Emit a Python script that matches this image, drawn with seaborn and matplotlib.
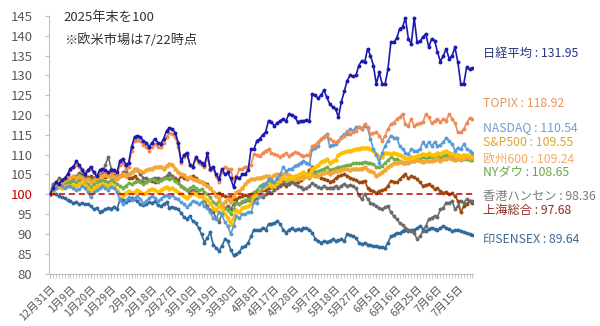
import pandas as pd
import matplotlib
matplotlib.use("Agg")
import matplotlib.pyplot as plt
import seaborn as sns

# index values (end of 2025 = 100), one value per weekday from 2025-12-31 to 2026-07-22
nikkei = [
    100, 101.5, 103, 102.5, 103.5, 104, 105, 106.5, 107, 108.3,
    107.5, 106, 105, 106, 107, 105.5, 104.5, 106, 106.5, 106,
    105.5, 106, 106, 105.5, 108.5, 109, 107.5, 108, 112, 114.5,
    114.8, 114.5, 113.5, 113, 112, 113, 114, 113, 112.8, 114,
    116, 116.8, 116.5, 115.5, 113, 108.3, 110, 110.5, 107.5, 107,
    109.3, 108.5, 108, 107.3, 110.3, 106.5, 107, 105, 103.8, 106.5,
    105, 105.5, 104, 101.8, 104.3, 104, 105, 105.2, 106, 111.5,
    111.4, 113.5, 114, 115, 115.7, 118.6, 118.2, 117.3, 118, 118.6,
    119, 118.5, 120.3, 120, 119.5, 118.3, 118.5, 118.5, 118.7, 118.5,
    125.3, 125, 124.2, 125, 126.2, 124.5, 122.8, 122, 121.5, 119.5,
    123.3, 126, 128.7, 130, 129.8, 130, 132.5, 133.7, 133.3, 136.7,
    135, 132.5, 127.8, 130.8, 127.8, 127.8, 131.6, 138.4, 138.4, 139.4,
    141.8, 142.2, 144.5, 139.2, 138, 144.5, 138.4, 138.6, 139.7, 140.5,
    137.1, 139.2, 138.8, 135.9, 133.5, 135, 136.7, 134.2, 135, 137.1,
    133.3, 127.8, 127.8, 132, 131.5, 131.95]

topix = [
    100, 101.5, 102.5, 102.5, 103.5, 104, 105, 106, 107, 107.5,
    107, 106.5, 105.5, 106, 106.5, 105.5, 104.5, 105.5, 106, 105.5,
    105, 105.5, 105.5, 105, 107.5, 108, 106.5, 107, 111, 113.5,
    113.8, 113.5, 112.5, 112, 111, 112, 112.8, 112, 112, 113,
    114.5, 115.5, 115.3, 114.5, 112, 108, 109.5, 110, 107.5, 107,
    108.8, 108, 107.5, 107, 109.5, 106, 106.5, 104.5, 103, 105.5,
    106.8, 106.5, 106.3, 103.5, 104.5, 106.3, 106.5, 107, 107, 107.5,
    110.1, 110, 109.7, 110.5, 111, 111.4, 110.5, 110.1, 109.8, 109.4,
    110, 110.3, 109.7, 110.2, 110.6, 110.3, 110, 109.6, 109.8, 110,
    112.2, 112.5, 113.1, 114, 114.5, 115.2, 113.9, 113.5, 113.1, 113.5,
    114.2, 114.8, 116, 115.2, 115.6, 116, 116.9, 116.5, 117.7, 117,
    115.2, 115.5, 115.6, 114.8, 113.5, 114.8, 116.5, 117.7, 118.1, 119,
    119.5, 120.3, 117.7, 117.3, 119, 117.3, 117.7, 118, 118.2, 120.3,
    119.4, 118, 118.5, 119, 118.2, 119, 118.6, 120.3, 119, 118,
    115.6, 115.6, 116.5, 118, 119.2, 118.92]

nasdaq = [
    100, 101, 101.5, 102.5, 102, 101.5, 102, 102, 101.5, 101,
    101.3, 102, 101.5, 100.5, 99.2, 100.5, 101, 101.5, 102, 101.5,
    101, 101.8, 101.5, 100.5, 98.5, 97.5, 98.5, 99.2, 98.5, 99,
    99.5, 98.8, 97.8, 98.2, 99, 99.6, 99, 98.3, 98.8, 99.5,
    99.8, 99.2, 99.8, 99, 98.7, 98, 97.5, 96.7, 97.5, 98.3,
    98, 97.5, 98, 97, 96.5, 95.4, 94, 93.7, 95.5, 94.9,
    93, 92, 89.9, 92, 94.5, 94, 95, 95, 95.5, 95.4,
    98, 97.9, 99.5, 102, 102.5, 103.8, 103.5, 103, 104, 105,
    106.8, 105.9, 106.3, 106.5, 107.2, 107.5, 108, 108.4, 108, 107.6,
    111.4, 111.8, 112.2, 113.9, 114.5, 115.2, 112.2, 112.5, 112.6, 113.5,
    114.5, 115.2, 115.2, 116.5, 116, 116.9, 116.9, 116.5, 117.3, 116.8,
    113.9, 111.4, 110, 108, 110.5, 112.2, 113.5, 114.8, 114.3, 114.3,
    112.2, 111.4, 110.5, 110.1, 111.4, 111, 111, 111.4, 113.1, 112.2,
    113.1, 112.2, 113.1, 112.2, 112.5, 113.1, 114.3, 113.5, 112.7, 111,
    111.8, 111.4, 112.7, 111.5, 111, 110.54]

sp500 = [
    100, 100.8, 101.5, 101.8, 101.5, 101.8, 102.2, 102, 102.3, 102.1,
    102.5, 102.8, 102.3, 101.5, 100.5, 101.5, 102, 102.3, 102.6, 102.3,
    102, 102.5, 102, 101, 100, 99.6, 100.3, 100.8, 100.2, 100.5,
    101, 100.5, 100, 100.4, 101, 101.3, 101, 100.5, 101, 101.5,
    101.8, 101.3, 101.5, 101, 100.5, 100, 99.5, 99, 99.8, 100.3,
    100, 99.5, 99.8, 99, 98.5, 97.8, 96.5, 96, 97, 96.5,
    95, 94, 92.5, 94, 96, 95.5, 96.5, 96.8, 97, 97.5,
    99.5, 99.8, 100.5, 101.5, 102, 102.5, 102.2, 102, 102.8, 103.3,
    104, 103.8, 104, 104.2, 104.6, 104.8, 105.2, 105.5, 105.2, 105,
    106.5, 106.8, 107.3, 108.1, 108.5, 108.8, 108, 108.3, 108.7, 110,
    110.3, 110.6, 110.8, 111, 111.2, 111.4, 111.5, 111.8, 111.6, 111.8,
    111.3, 111, 110.2, 109.5, 109.3, 110.5, 110.3, 110.1, 110.5, 110.2,
    109.8, 109.5, 109.2, 109, 109.5, 109.3, 109.6, 109.8, 110.2, 110,
    110.3, 109.8, 110, 110.4, 110.2, 110.6, 110.8, 110.5, 110.2, 109.8,
    110, 109.7, 110, 109.8, 109.6, 109.55]

stoxx600 = [
    100, 101, 102.5, 103, 102.8, 103.5, 104, 104.2, 104.5, 104.2,
    104.5, 104, 103.5, 103.8, 103, 103.5, 104, 104.3, 104.5, 104.8,
    104.5, 104.8, 104.3, 103.8, 104.5, 105, 104.6, 105, 105.5, 106,
    106.3, 105.8, 105.5, 106, 106.3, 106.5, 106.8, 106.8, 107, 106.5,
    107.2, 107.6, 107.5, 106.5, 105.5, 105, 104.8, 104, 104.3, 103.8,
    103.5, 103.3, 103, 102.5, 102.1, 101.5, 100.5, 99.6, 99, 97,
    98, 98.7, 98, 99.5, 100.5, 100.8, 101.5, 102.5, 103.4, 103.8,
    103.8, 104, 104.2, 104.3, 104.6, 104.5, 104.2, 104.8, 105, 104.6,
    105.2, 105, 104.8, 104.3, 104, 103.8, 104.2, 104, 104.5, 104.3,
    104.8, 104.6, 104.6, 105, 105.3, 105.5, 105.2, 105.6, 105.9, 105.9,
    106.2, 106.5, 106.3, 106, 106.3, 106.5, 106.3, 106.5, 106.8, 106.2,
    105.8, 105.5, 104.6, 105, 105.5, 106.2, 106.8, 107.3, 107.8, 108,
    108.2, 108, 107.8, 108.2, 108.5, 108.3, 108.6, 108.4, 108.2, 108.5,
    108.3, 108.4, 108.6, 108.9, 108.5, 108.8, 109, 109.2, 108.8, 108.6,
    109, 108.8, 109.1, 109.3, 109.2, 109.24]

dow = [
    100, 101, 101.8, 102.5, 102.2, 102.8, 103.2, 103, 103.3, 103.2,
    103.5, 103.8, 103.2, 102.5, 101.8, 102.5, 103, 103.3, 103.6, 103.3,
    103, 103.5, 103.2, 102.5, 102, 101.6, 102.2, 102.8, 102.5, 103,
    103.3, 103, 102.6, 103, 103.5, 103.8, 103.5, 103.2, 103.6, 104,
    104.2, 103.8, 104, 103.4, 102.8, 102.2, 101.5, 101, 101.6, 102,
    101.6, 101, 101.3, 100.5, 100, 99.2, 98, 97.5, 98.2, 97.5,
    96.5, 96, 95, 96.2, 97.9, 97.5, 98.2, 98.5, 98.8, 99,
    100.5, 101, 102.1, 102.5, 102.8, 103.2, 103, 102.8, 103.8, 103.5,
    103.8, 103.6, 103.8, 103.9, 104.2, 104.5, 104.8, 104.6, 104.5, 104.2,
    105.2, 105.5, 105.8, 106.2, 106.5, 106.8, 106.2, 106.4, 106.6, 106.8,
    107, 107.2, 107.4, 107.5, 107.8, 108, 107.8, 108, 108.2, 108,
    107.8, 107.6, 107, 106.8, 107.2, 108, 108.6, 109.3, 109, 108.8,
    108.5, 108.2, 108, 107.8, 108.3, 108.5, 108.8, 109, 109.3, 109.2,
    109.5, 109.3, 109.6, 109.8, 109.5, 109.7, 110, 109.6, 109.3, 108.8,
    109, 108.6, 108.9, 108.8, 108.6, 108.65]

hangseng = [
    100, 102.5, 103, 104, 103.5, 102.8, 103, 103.5, 104, 104.5,
    105.3, 105, 104.5, 104, 103.5, 104, 104.5, 105, 105.5, 107.5,
    109.4, 106.5, 105, 104, 104.5, 105.5, 105.8, 105, 105.5, 106.3,
    106, 105, 104.2, 104, 103.5, 103.8, 104.2, 104, 103.5, 104,
    104.5, 105.3, 104.3, 103.5, 103, 102.2, 101.5, 101, 100.5, 101.2,
    100.6, 100, 99.5, 98.5, 97, 96, 95.5, 94, 93, 95,
    96.5, 97, 96.2, 97.5, 98, 97.5, 98, 98.3, 98.5, 98.2,
    98.8, 99, 99.5, 99.2, 100, 100.5, 100.3, 101, 101.5, 102.5,
    103, 102.5, 102.8, 103.2, 102.6, 102, 101.8, 101.3, 101.5, 102,
    102.8, 102.3, 101.8, 101.5, 102, 101.5, 101.7, 101.7, 102, 101.5,
    102.2, 102.5, 102.1, 102.4, 102.1, 101.5, 99.8, 98.7, 100, 98.8,
    97.9, 97.5, 97, 96.5, 96.2, 96.8, 97, 95.4, 94.5, 93.7,
    92.8, 92.2, 91.6, 91.1, 90.7, 90.3, 88.6, 89.4, 90.7, 92,
    93.7, 94.1, 94.5, 94.3, 96.2, 96.6, 97.9, 97.9, 98.3, 96.2,
    97, 98.3, 97.9, 98.7, 98.2, 98.36]

shanghai = [
    100, 101, 102, 102.5, 103, 103.3, 103.8, 103.5, 104, 104.3,
    104.5, 104.2, 104, 104.3, 104.5, 104, 103.8, 104.2, 104.5, 104.3,
    104.6, 104.5, 104.2, 104, 104.5, 104.8, 104.5, 104, 104.2, 104.5,
    103.8, 103.3, 103, 103.2, 103.5, 103.3, 103, 103.4, 103.8, 104,
    104.6, 105, 104.5, 104, 103.5, 104.6, 104.2, 103.8, 104.3, 104.5,
    104, 103.4, 103, 102.8, 102.5, 101.5, 100.5, 100, 100.2, 99.8,
    99.6, 99.2, 99.6, 98.8, 98.7, 99.2, 99.5, 99.8, 99.6, 100,
    100.3, 100.5, 100.8, 101.2, 101, 101.5, 101.8, 101.5, 101.8, 102.1,
    102.5, 102.2, 102.6, 103, 102.8, 103, 103.5, 104.2, 105, 106,
    106.8, 105.5, 104.6, 104.2, 103.8, 103.5, 103.2, 103.4, 104, 104.5,
    104.8, 105, 104.6, 104.2, 103.8, 103.5, 103, 103.2, 103.4, 101.7,
    101.2, 100.8, 100.4, 100.8, 101, 101.3, 102.2, 103.4, 103.2, 103,
    103.8, 104.5, 105, 104, 104.5, 104.3, 103.8, 103, 102.1, 102.4,
    102.5, 102, 101.3, 101.5, 100.8, 100.4, 100.6, 100, 100.2, 99.6,
    98.3, 95.4, 97, 97.5, 98.3, 97.68]

sensex = [
    100, 100.2, 100, 99.5, 99.2, 99, 98.5, 98.3, 97.8, 98,
    97.5, 97.8, 97.5, 97.6, 97, 96.2, 96.6, 95.6, 95.8, 96.2,
    96.6, 96.4, 96.8, 96.2, 98.7, 98.5, 98, 98.6, 99, 98.8,
    98.2, 97.5, 97.2, 97.6, 98, 97.8, 98.2, 97.3, 97, 97.6,
    98, 96.6, 96.8, 96.5, 96.2, 95.3, 94.2, 93.8, 94.5, 93.2,
    92.8, 91.5, 89.9, 87.8, 89, 90.4, 87.3, 86.5, 85.7, 87,
    88.6, 88.2, 86, 84.6, 84.8, 85.5, 86.6, 86.9, 87.8, 89.4,
    91.1, 91, 90.9, 91.6, 91.1, 92.4, 92.6, 92.8, 93.2, 92.5,
    91.1, 90.3, 91.1, 91.4, 90.9, 91.3, 91.1, 91.6, 91.4, 91.1,
    90.3, 88.8, 88.2, 87.8, 88.2, 88, 88.3, 88.6, 88.2, 88.4,
    88.6, 88.3, 89.9, 89.7, 89.5, 89, 87.8, 87.5, 87.6, 87.3,
    87.2, 87, 86.9, 86.8, 86.6, 86.5, 87.8, 89.4, 89.8, 90.3,
    90.1, 90.8, 91.1, 90.7, 91, 91.1, 91.4, 92, 91.3, 90.7,
    91.2, 91.6, 91.3, 91.1, 91.5, 92, 91.6, 91.2, 90.7, 90.9,
    91.1, 90.7, 90.5, 90.1, 89.9, 89.64]

names = ["印SENSEX", "上海総合", "香港ハンセン", "NYダウ", "欧州600",
         "S&P500", "NASDAQ", "TOPIX", "日経平均"]
series = [sensex, shanghai, hangseng, dow, stoxx600, sp500, nasdaq, topix, nikkei]
line_colors = ["#2f6a9c", "#9e480e", "#6b6b6b", "#70ad47", "#f5a733",
               "#ffc000", "#5b9bd5", "#ee8a55", "#1a1ab0"]
label_colors = ["#3d6a93", "#8f2f1e", "#7a7a7a", "#6aa845", "#f2ad6a",
                "#dfa52c", "#6f9fd2", "#e8955f", "#26347f"]
label_y = [239, 210, 197, 173, 159, 143, 128, 104, 53]

xtick_labels = ["12月31日", "1月9日", "1月20日", "1月29日", "2月9日", "2月18日",
                "2月27日", "3月10日", "3月19日", "3月30日", "4月8日", "4月17日",
                "4月28日", "5月7日", "5月18日", "5月27日", "6月5日", "6月16日",
                "6月25日", "7月6日", "7月15日"]

sns.set_style("white")
plt.rcParams["font.family"] = ["Noto Sans CJK JP", "DejaVu Sans"]

frames = []
for name, vals in zip(names, series):
    frames.append(pd.DataFrame({"day": range(len(vals)), "value": vals, "name": name}))
df = pd.concat(frames, ignore_index=True)

fig = plt.figure(figsize=(6, 3.26), dpi=100)
ax = fig.add_axes([0.0817, 0.161, 0.7067, 0.79])

for name, c in zip(names, line_colors):
    thick = name in ("S&P500", "欧州600")
    sns.lineplot(data=df[df["name"] == name], x="day", y="value", color=c,
                 marker="o", markersize=3.2 if thick else 2.8, markeredgewidth=0,
                 linewidth=1.9 if thick else 1.2, ax=ax, legend=False)

ax.axhline(100, color="#c00000", linestyle=(0, (4, 2.5)), linewidth=1.1, zorder=10)

ax.set_xlim(-0.35, 145.2)
ax.set_ylim(80, 145)
ax.set_yticks(range(80, 146, 5))
ax.set_xticks(range(0, 141, 7))
ax.set_xticklabels(xtick_labels, rotation=45, ha="right", rotation_mode="anchor",
                   fontsize=7.8, color="#595959")
ax.set_xticks(range(0, 146), minor=True)
ax.tick_params(axis="y", labelsize=9.5, labelcolor="#595959", length=3,
               color="#bfbfbf", pad=9, left=True)
ax.tick_params(axis="x", which="both", length=3, color="#bfbfbf", pad=4, bottom=True)
for lbl in ax.get_yticklabels():
    if lbl.get_text() == "100":
        lbl.set_color("#c00000")
ax.set_xlabel("")
ax.set_ylabel("")
sns.despine(ax=ax)
for s in ("left", "bottom"):
    ax.spines[s].set_color("#bfbfbf")
    ax.spines[s].set_linewidth(0.8)

ax.text(0.035, 0.995, "2025年末を100", transform=ax.transAxes, fontsize=9.5,
        color="#333333", va="center")
ax.text(0.035, 0.905, "※欧米市場は7/22時点", transform=ax.transAxes, fontsize=9.5,
        color="#333333", va="center")

for name, vals, c, yp in zip(names, series, label_colors, label_y):
    fig.text(483 / 600, 1 - yp / 326, f"{name} : {vals[-1]:.2f}", color=c,
             fontsize=8.8, va="center", ha="left")

fig.savefig("out.png", dpi=100)
